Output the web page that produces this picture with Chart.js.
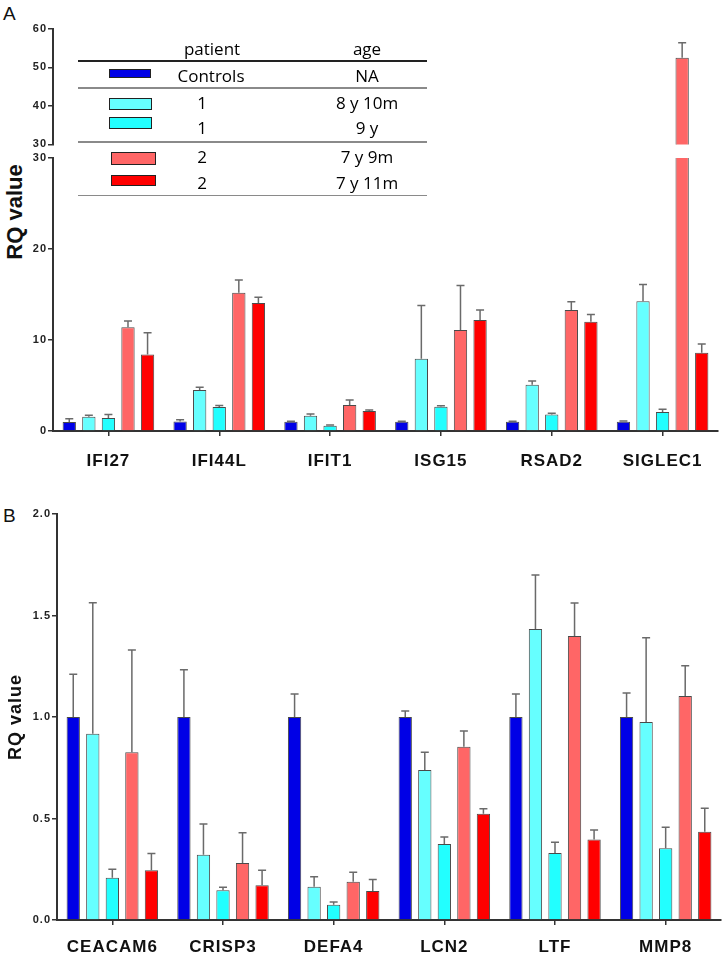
<!DOCTYPE html>
<html><head><meta charset="utf-8">
<script src="https://cdn.jsdelivr.net/npm/chart.js@4.4.0/dist/chart.umd.min.js"></script>
<style>
html,body{margin:0;padding:0;background:#fff;}
#wrap{position:relative;width:723px;height:960px;overflow:hidden;font-family:"Liberation Sans",Arial,sans-serif;}
canvas{position:absolute;left:0;}
.abs{position:absolute;white-space:nowrap;}
.lg{position:absolute;white-space:nowrap;font-family:"Open Sans",Lato,sans-serif;font-size:17px;color:#000;transform:translate(-50%,-50%);line-height:1;}
.sw{position:absolute;box-sizing:border-box;border:1.5px solid #222;}
.ln{position:absolute;left:78px;width:349px;}
</style></head><body>
<div id="wrap">
<div class="abs" style="left:3px;top:3px;font-size:19px;color:#111;">A</div>
<div class="abs" style="left:3px;top:505px;font-size:19px;color:#111;">B</div>
<div class="abs" style="left:15px;top:212px;font-size:22px;font-weight:bold;color:#111;transform:translate(-50%,-50%) rotate(-90deg);">RQ value</div>
<canvas id="a1" width="723" height="152" style="top:0px"></canvas>
<canvas id="a2" width="723" height="330" style="top:150px"></canvas>
<canvas id="b" width="723" height="470" style="top:490px"></canvas>
<div id="legend"></div>
</div>
<script>
// ---------- data ----------
const genesA = ['IFI27','IFI44L','IFIT1','ISG15','RSAD2','SIGLEC1'];
const genesB = ['CEACAM6','CRISP3','DEFA4','LCN2','LTF','MMP8'];
const seriesPatient = ['Controls','1','1','2','2'];
const seriesAge = ['NA','8 y 10m','9 y','7 y 9m','7 y 11m'];
const seriesColors = ['#0000E6','#66FFFF','#22FFFF','#FF6666','#FF0000'];

// Panel A values (RQ) per series
const aControls = [1.0, 1.05, 1.02, 1.02, 1.02, 1.02];
const aP1a      = [1.57, 4.5, 1.68, 7.95, 5.09, 14.25];
const aP1b      = [1.43, 2.63, 0.58, 2.67, 1.8, 2.09];
const aP2a      = [11.4, 15.2, 2.86, 11.1, 13.3, 52.5];
const aP2b      = [8.4, 14.07, 2.2, 12.2, 12.0, 8.6];
// Panel A error bars (upper SD)
const aControlsErr = [0.35, 0.2, 0.05, 0.05, 0.05, 0.08];
const aP1aErr      = [0.15, 0.3, 0.19, 5.85, 0.41, 1.85];
const aP1bErr      = [0.37, 0.17, 0.07, 0.11, 0.14, 0.29];
const aP2aErr      = [0.7, 1.4, 0.54, 4.9, 0.9, 3.9];
const aP2bErr      = [2.4, 0.63, 0.1, 1.1, 0.8, 0.96];

// Panel B values
const bControls = [1.0, 1.0, 1.0, 1.0, 1.0, 1.0];
const bP1a      = [0.918, 0.322, 0.164, 0.739, 1.433, 0.975];
const bP1b      = [0.208, 0.146, 0.075, 0.374, 0.33, 0.353];
const bP2a      = [0.826, 0.281, 0.189, 0.854, 1.399, 1.103];
const bP2b      = [0.245, 0.171, 0.143, 0.524, 0.396, 0.435];
const bControlsErr = [0.21, 0.233, 0.113, 0.03, 0.113, 0.118];
const bP1aErr      = [0.645, 0.151, 0.049, 0.087, 0.267, 0.415];
const bP1bErr      = [0.042, 0.015, 0.014, 0.035, 0.053, 0.104];
const bP2aErr      = [0.504, 0.149, 0.046, 0.077, 0.162, 0.15];
const bP2bErr      = [0.082, 0.074, 0.057, 0.024, 0.047, 0.115];

// tick values
const ticksAUpper = [30, 40, 50, 60];
const ticksALower = [0, 10, 20, 30];
const ticksB = [0, 0.5, 1.0, 1.5, 2.0];

// ---------- helpers ----------
const FONT = '"Liberation Sans", Arial, sans-serif';

const spacing = {
  id: 'spacing',
  beforeDraw(chart) { chart.ctx.letterSpacing = '1px'; }
};

const errorBars = {
  id: 'errorBars',
  afterDatasetsDraw(chart) {
    const ctx = chart.ctx, area = chart.chartArea, ys = chart.scales.y;
    ctx.save();
    ctx.beginPath();
    ctx.rect(area.left, area.top, area.right - area.left, area.bottom - area.top);
    ctx.clip();
    ctx.strokeStyle = '#6a6a6a';
    ctx.lineWidth = 1.5;
    chart.data.datasets.forEach((ds, i) => {
      const meta = chart.getDatasetMeta(i);
      meta.data.forEach((el, j) => {
        const v = ds.data[j], e = ds.errors[j];
        const yv = ys.getPixelForValue(v), yt = ys.getPixelForValue(v + e);
        ctx.beginPath();
        ctx.moveTo(el.x, yv); ctx.lineTo(el.x, yt);
        ctx.moveTo(el.x - 4, yt); ctx.lineTo(el.x + 4, yt);
        ctx.stroke();
      });
    });
    ctx.restore();
  }
};

function makeChart(id, labels, values, errs, c) {
  const datasets = values.map((arr, i) => ({
    label: seriesPatient[i] + ' ' + seriesAge[i],
    data: arr,
    errors: errs[i],
    backgroundColor: seriesColors[i],
    borderColor: '#4a4a4a',
    borderWidth: 1,
    categoryPercentage: 0.883,
    barPercentage: 0.68,
    clip: 0
  }));
  return new Chart(document.getElementById(id), {
    type: 'bar',
    data: { labels, datasets },
    plugins: [spacing, errorBars],
    options: {
      responsive: false,
      animation: false,
      devicePixelRatio: 1,
      layout: { padding: { left: 0, right: c.padRight, top: c.padTop, bottom: c.padBottom } },
      plugins: { legend: { display: false }, tooltip: { enabled: false } },
      scales: {
        x: {
          display: c.showX,
          offset: true,
          grid: { display: true, offset: false, drawOnChartArea: false, drawTicks: true, tickLength: 5, color: '#333', lineWidth: 1.5 },
          border: { display: true, color: '#333', width: 2 },
          ticks: { color: '#111', font: { family: FONT, size: 17, weight: 'bold' }, padding: c.labelPad, maxRotation: 0, autoSkip: false },
          afterFit: s => { if (c.xHeight) s.height = c.xHeight; }
        },
        y: {
          min: c.min, max: c.max,
          afterBuildTicks: s => { s.ticks = c.ticks.map(v => ({ value: v })); },
          afterFit: s => { s.width = c.yWidth; },
          grid: { drawOnChartArea: false, drawTicks: true, tickLength: 5, color: '#333', lineWidth: 1.5 },
          border: { display: true, color: '#333', width: 2 },
          ticks: { color: '#222', font: { family: FONT, size: 11, weight: 'bold' }, padding: 1, callback: c.fmt },
          title: c.title ? { display: true, text: c.title, color: '#111', font: { family: FONT, size: 18, weight: 'bold' }, padding: { top: 5, bottom: 0 } } : { display: false }
        }
      }
    }
  });
}

const valsA = [aControls, aP1a, aP1b, aP2a, aP2b];
const errsA = [aControlsErr, aP1aErr, aP1bErr, aP2aErr, aP2bErr];
const valsB = [bControls, bP1a, bP1b, bP2a, bP2b];
const errsB = [bControlsErr, bP1aErr, bP1bErr, bP2aErr, bP2bErr];

makeChart('a1', genesA, valsA, errsA, { min: 30, max: 60, ticks: ticksAUpper, yWidth: 53, padTop: 29, padBottom: 7, padRight: 5, showX: false, fmt: v => String(v) });
makeChart('a2', genesA, valsA, errsA, { min: 0, max: 30, ticks: ticksALower, yWidth: 53, padTop: 8, padBottom: 0, padRight: 5, showX: true, xHeight: 49, labelPad: 15, fmt: v => String(v) });
makeChart('b', genesB, valsB, errsB, { min: 0, max: 2, ticks: ticksB, yWidth: 57, padTop: 24, padBottom: 0, padRight: 2, showX: true, xHeight: 40, labelPad: 12, fmt: v => v.toFixed(1), title: 'RQ value' });

// ---------- legend table (panel A) ----------
const lg = document.getElementById('legend');
function add(html) { lg.insertAdjacentHTML('beforeend', html); }
add(`<div class="lg" style="left:212px;top:48px">patient</div>`);
add(`<div class="lg" style="left:367px;top:48px">age</div>`);
add(`<div class="ln" style="top:59.5px;height:2.5px;background:#222"></div>`);
const rowSw = [ {l:109,t:69,w:42,h:9}, {l:109,t:98,w:43,h:12}, {l:109,t:117,w:43,h:12}, {l:111,t:152,w:45,h:13}, {l:111,t:175,w:45,h:11} ];
const rowTextY = [75, 102, 127, 156, 182];
const patientX = [211, 202, 202, 202, 202];
seriesPatient.forEach((p, i) => {
  const s = rowSw[i];
  add(`<div class="sw" style="left:${s.l}px;top:${s.t}px;width:${s.w}px;height:${s.h}px;background:${seriesColors[i]}"></div>`);
  add(`<div class="lg" style="left:${patientX[i]}px;top:${rowTextY[i]}px">${p}</div>`);
  add(`<div class="lg" style="left:367px;top:${rowTextY[i]}px">${seriesAge[i]}</div>`);
});
[87, 141, 194.5].forEach(t => add(`<div class="ln" style="top:${t}px;height:1.5px;background:#8a8a8a"></div>`));
</script>
</body></html>
